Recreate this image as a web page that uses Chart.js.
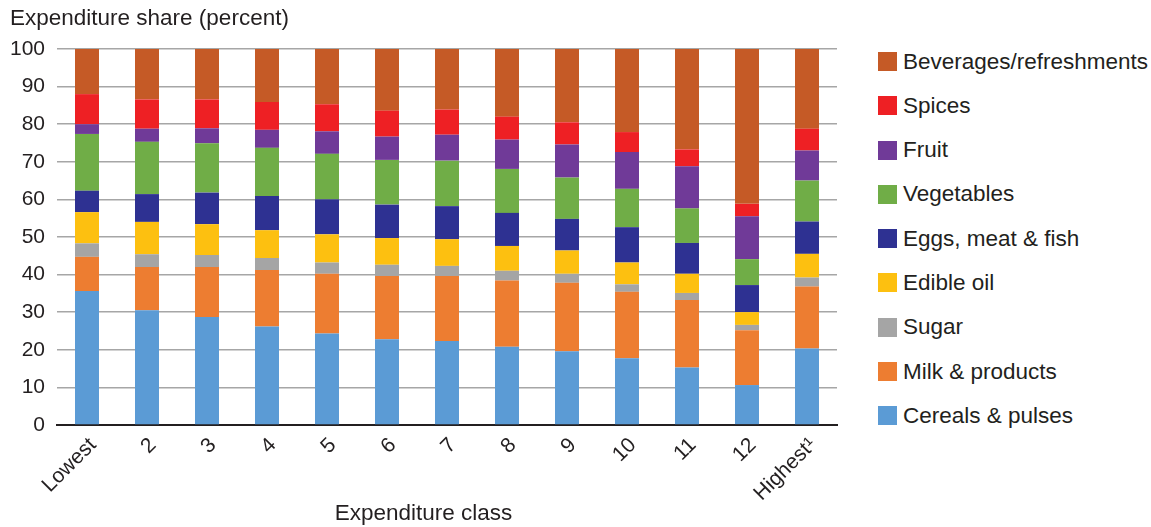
<!DOCTYPE html>
<html>
<head>
<meta charset="utf-8">
<script src="https://cdn.jsdelivr.net/npm/chart.js@4.4.0/dist/chart.umd.min.js"></script>
<style>
  html, body { margin: 0; padding: 0; background: #fff; }
  body { width: 1151px; height: 527px; position: relative; overflow: hidden;
         font-family: "Liberation Sans", Arial, sans-serif; color: #231f20; }
  #chart-wrap { position: absolute; left: 0; top: 0; width: 845px; height: 527px; }
  #legend { position: absolute; left: 878px; top: 52px; margin: 0; padding: 0; list-style: none; }
  #legend li { display: flex; align-items: center; height: 19px; margin-bottom: 25.3px;
               font-size: 22.5px; white-space: nowrap; }
  #legend .swatch { width: 19px; height: 19px; margin-right: 6px; flex: none; }
</style>
</head>
<body>
<div id="chart-wrap"><canvas id="foodChart"></canvas></div>
<ul id="legend"></ul>
<script>
const classes = ['Lowest', '2', '3', '4', '5', '6', '7', '8', '9', '10', '11', '12', 'Highest\u00b9'];

// share of food spending per class, bottom segment first
const cereals      = [35.6, 30.5, 28.7, 26.2, 24.3, 22.8, 22.3, 20.8, 19.6, 17.7, 15.3, 10.6, 20.3];
const milk         = [ 9.1, 11.5, 13.3, 15.0, 15.9, 16.8, 17.3, 17.6, 18.2, 17.7, 17.9, 14.6, 16.5];
const sugar        = [ 3.6,  3.4,  3.2,  3.2,  3.0,  3.0,  2.7,  2.6,  2.4,  2.0,  1.9,  1.4,  2.4];
const edibleOil    = [ 8.3,  8.6,  8.2,  7.4,  7.5,  7.1,  7.1,  6.6,  6.2,  5.8,  5.1,  3.4,  6.3];
const eggsMeatFish = [ 5.7,  7.4,  8.4,  9.1,  9.3,  8.9,  8.8,  8.8,  8.4,  9.4,  8.2,  7.2,  8.6];
const vegetables   = [15.1, 13.9, 13.1, 12.8, 12.1, 11.9, 12.1, 11.7, 11.0, 10.2,  9.2,  6.9, 10.9];
const fruit        = [ 2.6,  3.5,  4.0,  4.8,  6.0,  6.2,  6.9,  7.8,  8.8,  9.8, 11.2, 11.4,  8.0];
const spices       = [ 8.0,  7.8,  7.7,  7.4,  7.2,  6.9,  6.7,  6.1,  5.9,  5.3,  4.5,  3.3,  5.8];
const beverages    = [12.0, 13.4, 13.4, 14.1, 14.7, 16.4, 16.1, 18.0, 19.5, 22.1, 26.7, 41.2, 21.2];

const yTicks = [0, 10, 20, 30, 40, 50, 60, 70, 80, 90, 100];

const seriesNames = ['Cereals & pulses', 'Milk & products', 'Sugar', 'Edible oil',
  'Eggs, meat & fish', 'Vegetables', 'Fruit', 'Spices', 'Beverages/refreshments'];
const seriesData = [cereals, milk, sugar, edibleOil, eggsMeatFish, vegetables, fruit, spices, beverages];
const seriesColors = ['#5b9bd5', '#ed7d31', '#a5a5a5', '#fdc010', '#2e3192',
  '#70ad47', '#703a98', '#ee2024', '#c55a26'];

const textColor = '#231f20';
const fontFamily = '"Liberation Sans", Arial, sans-serif';

const datasets = seriesNames.map((name, i) => ({
  label: name,
  data: seriesData[i],
  backgroundColor: seriesColors[i],
  borderWidth: 0,
  barPercentage: 0.4,
  categoryPercentage: 1.0
}));

const ctx = document.getElementById('foodChart').getContext('2d');
const chart = new Chart(ctx, {
  type: 'bar',
  data: { labels: classes, datasets },
  options: {
    responsive: true,
    maintainAspectRatio: false,
    animation: false,
    layout: { padding: { left: 10, right: 8, top: 0, bottom: 0 } },
    plugins: {
      legend: { display: false },
      tooltip: { enabled: false },
      title: {
        display: true,
        text: 'Expenditure share (percent)',
        align: 'start',
        color: textColor,
        font: { family: fontFamily, size: 22.5, weight: 'normal' },
        padding: { top: 5, bottom: 17 }
      },
      // x axis caption, centred on the whole chart rather than the plot area
      subtitle: {
        display: true,
        position: 'bottom',
        text: 'Expenditure class',
        color: textColor,
        font: { family: fontFamily, size: 22.5, weight: 'normal' },
        padding: { top: -6, bottom: 0 }
      }
    },
    scales: {
      x: {
        stacked: true,
        grid: { display: false },
        border: { color: textColor, width: 2 },
        ticks: {
          color: textColor,
          maxRotation: 45,
          minRotation: 45,
          padding: 0,
          labelOffset: 6,
          font: { family: fontFamily, size: 21 }
        }
      },
      y: {
        stacked: true,
        min: 0,
        max: 100,
        afterBuildTicks: axis => { axis.ticks = yTicks.map(v => ({ value: v })); },
        // padding is counted twice by default; keep just label width + one gap
        afterFit: axis => { axis.width = 47; },
        grid: { color: '#a6a6a6', lineWidth: 1.5, drawTicks: false },
        border: { display: false },
        ticks: {
          color: textColor,
          padding: 12,
          font: { family: fontFamily, size: 21 }
        }
      }
    }
  }
});

// legend lists the top segment first
function buildLegend(c) {
  const list = document.getElementById('legend');
  list.innerHTML = '';
  c.data.datasets.slice().reverse().forEach(ds => {
    const li = document.createElement('li');
    li.innerHTML = `<span class="swatch" style="background:${ds.backgroundColor}"></span>${ds.label}`;
    list.appendChild(li);
  });
}
buildLegend(chart);
</script>
</body>
</html>
